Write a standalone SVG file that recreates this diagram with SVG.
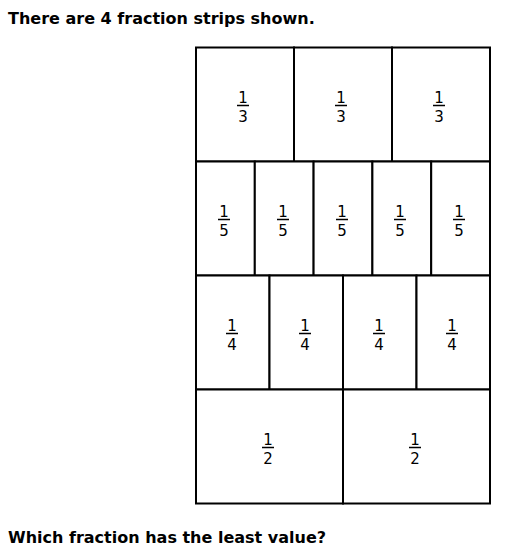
<svg xmlns="http://www.w3.org/2000/svg" width="509" height="555" viewBox="0 0 509 555">
<style>
.t{font-family:"DejaVu Sans",Verdana,sans-serif;font-weight:bold;font-size:16px;fill:#000}
.cell{fill:#fff;stroke:#000;stroke-width:2}
.d{font-family:"DejaVu Sans",Verdana,sans-serif;font-size:15px;fill:#000;text-anchor:middle}
.bar{stroke:#000;stroke-width:1.5}
</style>
<rect width="509" height="555" fill="#fff"/>
<text class="t" x="8" y="24">There are 4 fraction strips shown.</text>
<g id="strip-thirds">
<rect class="cell" x="196" y="47.5" width="98" height="114"/>
<rect class="cell" x="294" y="47.5" width="98" height="114"/>
<rect class="cell" x="392" y="47.5" width="98" height="114"/>
<g id="f3a"><text class="d" x="243" y="103">1</text><line class="bar" x1="237" y1="105.5" x2="249" y2="105.5"/><text class="d" x="243" y="122">3</text></g>
<g id="f3b"><text class="d" x="341" y="103">1</text><line class="bar" x1="335" y1="105.5" x2="347" y2="105.5"/><text class="d" x="341" y="122">3</text></g>
<g id="f3c"><text class="d" x="439" y="103">1</text><line class="bar" x1="433" y1="105.5" x2="445" y2="105.5"/><text class="d" x="439" y="122">3</text></g>
</g>
<g id="strip-fifths">
<rect class="cell" x="196" y="161.5" width="58.8" height="114"/>
<rect class="cell" x="254.8" y="161.5" width="58.8" height="114"/>
<rect class="cell" x="313.6" y="161.5" width="58.8" height="114"/>
<rect class="cell" x="372.4" y="161.5" width="58.8" height="114"/>
<rect class="cell" x="431.2" y="161.5" width="58.8" height="114"/>
<g id="f5a"><text class="d" x="224" y="217">1</text><line class="bar" x1="218" y1="219.5" x2="230" y2="219.5"/><text class="d" x="224" y="236">5</text></g>
<g id="f5b"><text class="d" x="283" y="217">1</text><line class="bar" x1="277" y1="219.5" x2="289" y2="219.5"/><text class="d" x="283" y="236">5</text></g>
<g id="f5c"><text class="d" x="342" y="217">1</text><line class="bar" x1="336" y1="219.5" x2="348" y2="219.5"/><text class="d" x="342" y="236">5</text></g>
<g id="f5d"><text class="d" x="400" y="217">1</text><line class="bar" x1="394" y1="219.5" x2="406" y2="219.5"/><text class="d" x="400" y="236">5</text></g>
<g id="f5e"><text class="d" x="459" y="217">1</text><line class="bar" x1="453" y1="219.5" x2="465" y2="219.5"/><text class="d" x="459" y="236">5</text></g>
</g>
<g id="strip-quarters">
<rect class="cell" x="196" y="275.5" width="73.5" height="114"/>
<rect class="cell" x="269.5" y="275.5" width="73.5" height="114"/>
<rect class="cell" x="343" y="275.5" width="73.5" height="114"/>
<rect class="cell" x="416.5" y="275.5" width="73.5" height="114"/>
<g id="f4a"><text class="d" x="232" y="331">1</text><line class="bar" x1="226" y1="333.5" x2="238" y2="333.5"/><text class="d" x="232" y="350">4</text></g>
<g id="f4b"><text class="d" x="305" y="331">1</text><line class="bar" x1="299" y1="333.5" x2="311" y2="333.5"/><text class="d" x="305" y="350">4</text></g>
<g id="f4c"><text class="d" x="379" y="331">1</text><line class="bar" x1="373" y1="333.5" x2="385" y2="333.5"/><text class="d" x="379" y="350">4</text></g>
<g id="f4d"><text class="d" x="452" y="331">1</text><line class="bar" x1="446" y1="333.5" x2="458" y2="333.5"/><text class="d" x="452" y="350">4</text></g>
</g>
<g id="strip-halves">
<rect class="cell" x="196" y="389.5" width="147" height="114"/>
<rect class="cell" x="343" y="389.5" width="147" height="114"/>
<g id="f2a"><text class="d" x="268" y="445">1</text><line class="bar" x1="262" y1="447.5" x2="274" y2="447.5"/><text class="d" x="268" y="464">2</text></g>
<g id="f2b"><text class="d" x="415" y="445">1</text><line class="bar" x1="409" y1="447.5" x2="421" y2="447.5"/><text class="d" x="415" y="464">2</text></g>
</g>
<g id="connectors"/>
<text class="t" x="8" y="543">Which fraction has the least value?</text>
</svg>
